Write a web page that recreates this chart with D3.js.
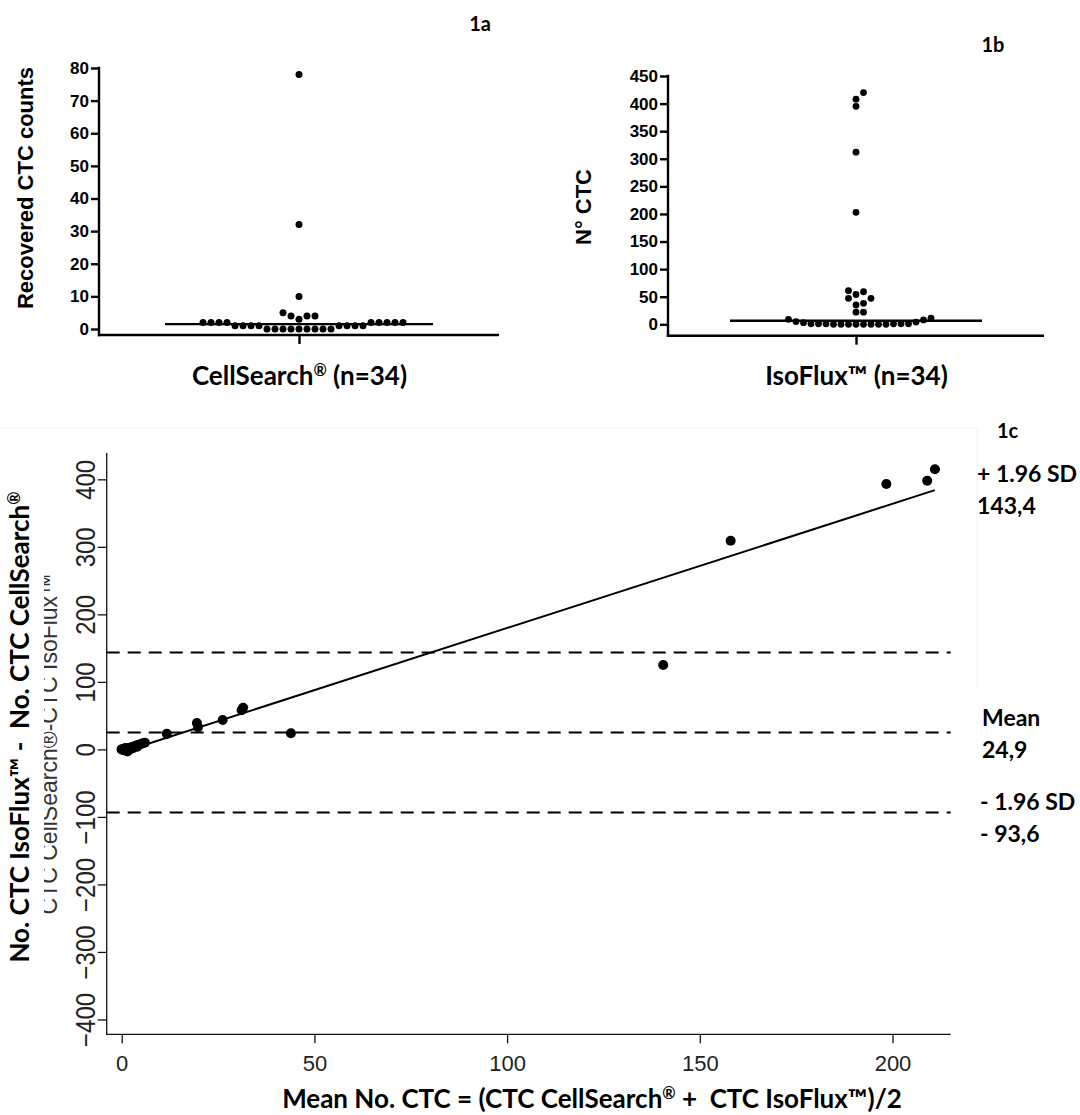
<!DOCTYPE html>
<html lang="en">
  <meta charset="UTF-8" />
  <title>CTC counts: CellSearch vs IsoFlux</title>
  <style>
    body { margin: 0; background: #fff; }
    svg text { white-space: pre; }
  </style>
  <script src="https://d3js.org/d3.v7.min.js"></script>
  <body>
    <div id="chart"></div>
    <script>
      // 1a - CellSearch counts (n=34)
      let cellSearch = [78, 32, 10, 5, 4, 4, 4, 3,
        2, 2, 2, 2, 2, 2, 2, 2, 2,
        1, 1, 1, 1, 1, 1, 1, 1,
        0, 0, 0, 0, 0, 0, 0, 0, 0];
      let cellTicks = [0, 10, 20, 30, 40, 50, 60, 70, 80];

      // 1b - IsoFlux counts (n=34)
      let isoFlux = [420, 408, 395, 312, 203,
        61, 59, 54, 47, 47, 38, 35, 22, 22,
        11, 9, 8, 5, 4, 3,
        1, 1, 1, 1, 1, 1, 0, 0, 0, 0, 0, 0, 0, 0];
      let isoTicks = [0, 50, 100, 150, 200, 250, 300, 350, 400, 450];

      // 1c - Bland-Altman (mean of the two methods, difference IsoFlux - CellSearch)
      let blandMean = [0, 0, 0.5, 0.5, 1, 1, 1, 1.5, 1.5, 2, 2, 2.5, 2.5, 3, 3, 3.5, 4, 4, 4.5, 5, 5.5, 6,
        11.7, 19.5, 19.8, 26.2, 31.1, 31.5, 43.9, 140.5, 158, 198.4, 209, 211];
      let blandDiff = [0, 0, 1, -1, -2, 0, 2, -3, 1, 0, 2, 3, 1, 4, 2, 5, 6, 4, 7, 8, 9, 10,
        23, 39, 33, 43.4, 58, 61.6, 24, 125, 309, 393, 398, 415];
      let meanTicks = [0, 50, 100, 150, 200];
      let diffTicks = [-400, -300, -200, -100, 0, 100, 200, 300, 400];
      let limitNames = ["+ 1.96 SD", "Mean", "- 1.96 SD"];
      let limitValues = [143.4, 24.9, -93.6];
      let limitTexts = ["143,4", "24,9", "- 93,6"];
      let regIntercept = -4.2;
      let regSlope = 1.84;

      const arial = "'Liberation Sans', Arial, sans-serif";
      const calibri = "Lato, 'Open Sans', sans-serif";

      const svg = d3.select("#chart").append("svg")
        .attr("width", 1080).attr("height", 1115);

      // text with a small raised mark (®)
      function richText(sel, parts) {
        parts.forEach(([s, sup]) => {
          let t = sel.append("tspan").text(s);
          if (sup) t.attr("font-size", "0.62em").attr("baseline-shift", "55%");
        });
        return sel;
      }

      // simple beeswarm: place points in ascending order, nearest free slot
      function swarm(values, y, step) {
        let minD = step * 0.9;
        let placed = [];
        values.slice().sort((a, b) => a - b).forEach((v) => {
          let py = y(v);
          for (let k = 0; ; k++) {
            let off = (k == 0 ? 0 : k % 2 ? (k + 1) / 2 : -k / 2) * step;
            let free = placed.every((p) => Math.hypot(p.dx - off, p.y - py) >= minD);
            if (free) { placed.push({ v: v, y: py, dx: off }); break; }
          }
        });
        return placed;
      }

      function dotPanel(o) {
        const g = svg.append("g");
        const y = d3.scaleLinear().domain([0, o.ticks[o.ticks.length - 1]]).range(o.yRange);
        const x = d3.scalePoint().domain([o.category]).range([o.axisX, o.axisEnd]).padding(0.5);

        const ya = g.append("g").attr("transform", "translate(" + o.axisX + ",0)")
          .call(d3.axisLeft(y).tickValues(o.ticks).tickSize(8).tickPadding(2));
        ya.select(".domain").remove();
        ya.selectAll("line").attr("stroke", "#000").attr("stroke-width", 2.4);
        ya.selectAll("text").attr("font-family", arial).attr("font-weight", "bold")
          .attr("font-size", 17).attr("fill", "#000");

        const xa = g.append("g").attr("transform", "translate(0," + o.baseY + ")")
          .call(d3.axisBottom(x).tickSize(9).tickPadding(16));
        xa.select(".domain").remove();
        xa.selectAll("line").attr("stroke", "#000").attr("stroke-width", 2.4);
        xa.selectAll("text").text(null).attr("font-family", calibri).attr("font-weight", "bold")
          .attr("font-size", 26).attr("fill", "#000").attr("dy", "0.95em")
          .each(function () { richText(d3.select(this), o.labelParts); });

        g.append("line").attr("x1", o.axisX).attr("x2", o.axisX)
          .attr("y1", y.range()[1] - 1.2).attr("y2", o.baseY + 1.2)
          .attr("stroke", "#000").attr("stroke-width", 2.4);
        g.append("line").attr("x1", o.axisX - 1.2).attr("x2", o.axisEnd)
          .attr("y1", o.baseY).attr("y2", o.baseY)
          .attr("stroke", "#000").attr("stroke-width", 2.4);

        const cx = x(o.category);
        g.selectAll("circle").data(swarm(o.values, y, o.step)).join("circle")
          .attr("cx", (d) => cx + d.dx).attr("cy", (d) => d.y).attr("r", o.r).attr("fill", "#000");

        const med = d3.median(o.values);
        g.append("line").attr("x1", cx - o.medHalf).attr("x2", cx + o.medHalf)
          .attr("y1", y(med)).attr("y2", y(med)).attr("stroke", "#000").attr("stroke-width", 2.4);

        g.append("text").attr("transform", "translate(" + o.titleX + "," + o.titleY + ") rotate(-90)")
          .attr("text-anchor", "middle").attr("font-family", arial).attr("font-weight", "bold")
          .attr("font-size", 22).text(o.yTitle);

        g.append("text").attr("x", o.tagX).attr("y", o.tagY).attr("font-family", calibri)
          .attr("font-weight", "bold").attr("font-size", 20).attr("text-anchor", "middle").text(o.tag);
      }

      dotPanel({
        values: cellSearch, ticks: cellTicks, category: "CellSearch",
        labelParts: [["CellSearch", false], ["®", true], [" (n=34)", false]],
        yRange: [329, 68], axisX: 99, axisEnd: 499, baseY: 335, step: 8, r: 3.5, medHalf: 134,
        yTitle: "Recovered CTC counts", titleX: 33, titleY: 188, tag: "1a", tagX: 480, tagY: 31
      });
      dotPanel({
        values: isoFlux, ticks: isoTicks, category: "IsoFlux",
        labelParts: [["IsoFlux™ (n=34)", false]],
        yRange: [324.3, 76], axisX: 668, axisEnd: 1044, baseY: 335.7, step: 7.5, r: 3.4, medHalf: 126,
        yTitle: "N° CTC", titleX: 591, titleY: 207, tag: "1b", tagX: 993, tagY: 52
      });

      // ---- 1c Bland-Altman ----
      const g = svg.append("g");
      const bx = d3.scaleLinear().domain([-3.9, 215.1]).range([106.7, 950.7]);
      const by = d3.scaleLinear().domain([-422, 439]).range([1034.3, 453]);
      const line = "#111";

      // faint frame of the pasted plot
      g.append("path").attr("d", "M0,428H977V690").attr("fill", "none")
        .attr("stroke", "#f2f2f2").attr("stroke-width", 1);

      const xa = g.append("g").attr("transform", "translate(0," + by.range()[0] + ")")
        .call(d3.axisBottom(bx).tickValues(meanTicks).tickSize(9).tickPadding(12));
      xa.select(".domain").remove();
      xa.selectAll("line").attr("stroke", line).attr("stroke-width", 1.3);
      xa.selectAll("text").attr("font-family", arial).attr("font-size", 22).attr("fill", "#222");

      const ya = g.append("g").attr("transform", "translate(" + bx.range()[0] + ",0)")
        .call(d3.axisLeft(by).tickValues(diffTicks).tickSize(9));
      ya.select(".domain").remove();
      ya.selectAll("line").attr("stroke", line).attr("stroke-width", 1.3);
      ya.selectAll("text").attr("x", null).attr("dy", null).attr("text-anchor", "middle")
        .attr("transform", "translate(-12,0) rotate(-90) scale(1,1.12)")
        .attr("font-family", arial).attr("font-size", 24).attr("fill", "#222");

      g.append("path").attr("fill", "none").attr("stroke", line).attr("stroke-width", 1.3)
        .attr("d", "M" + bx.range()[0] + "," + by.range()[1] + "V" + by.range()[0] + "H" + bx.range()[1]);

      g.selectAll(".limit").data(limitValues).join("line").attr("class", "limit")
        .attr("x1", bx.range()[0]).attr("x2", bx.range()[1])
        .attr("y1", (d) => by(d)).attr("y2", (d) => by(d))
        .attr("stroke", "#000").attr("stroke-width", 2).attr("stroke-dasharray", "13,8");

      const ext = d3.extent(blandMean);
      g.append("path").datum(ext).attr("fill", "none").attr("stroke", "#000").attr("stroke-width", 2)
        .attr("d", d3.line().x((d) => bx(d)).y((d) => by(regIntercept + regSlope * d)));

      g.selectAll(".pt").data(blandMean).join("circle").attr("class", "pt")
        .attr("cx", (d) => bx(d)).attr("cy", (d, i) => by(blandDiff[i])).attr("r", 5).attr("fill", "#000");

      // R axis title, partly covered by the pasted bold title
      g.append("text").attr("transform", "translate(57," + (by.range()[0] + by.range()[1]) / 2 + ") rotate(-90)")
        .attr("text-anchor", "middle").attr("font-family", arial).attr("font-size", 23).attr("fill", "#333")
        .text("CTC CellSearch®-CTC IsoFlux™");
      g.append("rect").attr("x", 0).attr("y", 485).attr("width", 44).attr("height", 483).attr("fill", "#fff");
      richText(g.append("text").attr("transform", "translate(29,727) rotate(-90)")
        .attr("text-anchor", "middle").attr("font-family", calibri).attr("font-weight", "bold").attr("font-size", 26),
        [["No. CTC IsoFlux™ -  No. CTC CellSearch", false], ["®", true]]);

      richText(g.append("text").attr("x", 592).attr("y", 1108).attr("text-anchor", "middle")
        .attr("font-family", calibri).attr("font-weight", "bold").attr("font-size", 26),
        [["Mean No. CTC = (CTC CellSearch", false], ["®", true], [" +  CTC IsoFlux™)/2", false]]);

      g.append("text").attr("x", 997).attr("y", 438).attr("font-family", calibri)
        .attr("font-weight", "bold").attr("font-size", 20).text("1c");

      const labX = [977, 982, 980];
      const labY = [482, 726, 810];
      limitNames.forEach((n, i) => {
        let t = g.append("text").attr("font-family", calibri).attr("font-weight", "bold").attr("font-size", 23);
        t.append("tspan").attr("x", labX[i]).attr("y", labY[i]).text(n);
        t.append("tspan").attr("x", labX[i]).attr("y", labY[i] + 31.5).text(limitTexts[i]);
      });
    </script>
  </body>
</html>
